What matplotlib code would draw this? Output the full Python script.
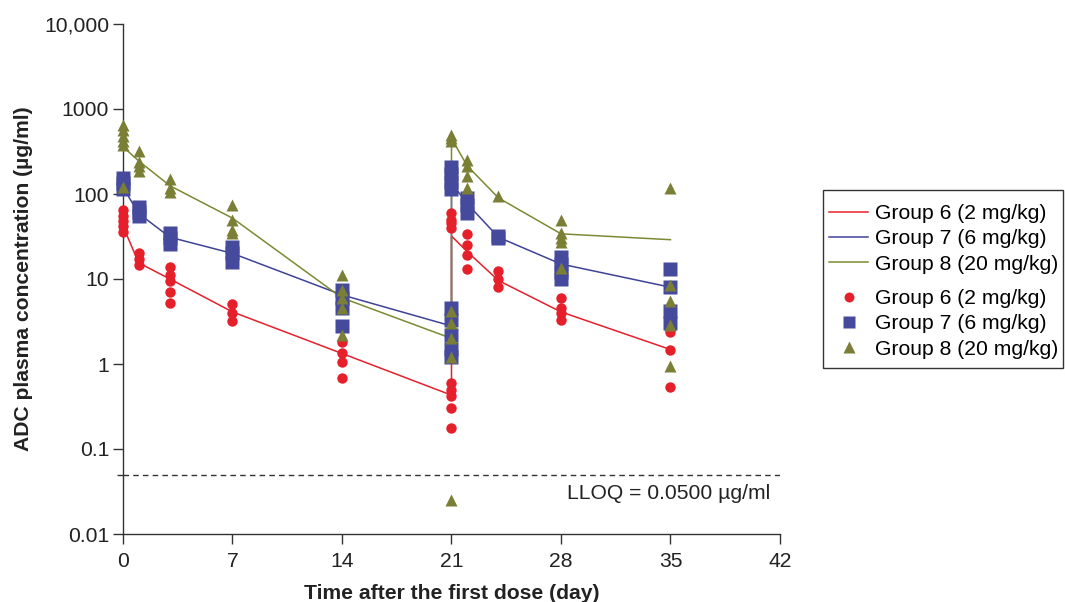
import matplotlib
matplotlib.use('Agg')
import matplotlib.pyplot as plt
from matplotlib.lines import Line2D
from matplotlib.patches import Rectangle
from matplotlib.ticker import FixedLocator, NullFormatter

plt.rcParams['font.family'] = ['Liberation Sans', 'DejaVu Sans']

groups = ['Group 6 (2 mg/kg)', 'Group 7 (6 mg/kg)', 'Group 8 (20 mg/kg)']
colors = ['#E5202B', '#454A9D', '#7A7F35']
line_colors = ['#E5202B', '#3E4398', '#7C8A32']
markers = ['o', 's', '^']
msizes = [7.5, 9.5, 9]

# model / mean curves
line_days = [0, 1, 3, 7, 14, 21, 21, 22, 24, 28, 35]
line_g6 = [42, 15.5, 10, 4.1, 1.33, 0.43, 32, 21, 9.6, 4.1, 1.48]
line_g7 = [120, 59, 31, 20, 6.5, 2.8, 135, 77, 31, 15, 8]
line_g8 = [360, 245, 125, 52, 6.0, 2.0, 450, 215, 90, 34, 29]

# individual observations
g6_days = [0]*5 + [1]*3 + [3]*5 + [7]*3 + [14]*4 + [21]*5 + [21]*4 + [22]*4 + [24]*3 + [28]*4 + [35]*3
g6_vals = [65, 55, 48, 42, 36,
           20, 17, 14.5,
           14, 11, 9.5, 7, 5.2,
           5.1, 4.0, 3.2,
           1.8, 1.35, 1.05, 0.68,
           0.6, 0.5, 0.42, 0.3, 0.175,
           60, 50, 45, 40,
           34, 25, 19, 13,
           12.5, 10, 8,
           6, 4.5, 4, 3.3,
           2.4, 1.45, 0.53]

g7_days = [0]*3 + [1]*3 + [3]*3 + [7]*3 + [14]*4 + [21]*5 + [21]*4 + [22]*3 + [24]*2 + [28]*4 + [35]*4
g7_vals = [155, 135, 115,
           70, 62, 55,
           35, 30, 26,
           24, 20, 16,
           7.5, 6, 4.5, 2.8,
           4.5, 3.3, 2.2, 1.5, 1.2,
           210, 170, 140, 115,
           90, 75, 60,
           32, 30,
           18, 15, 12, 10,
           13, 8, 4.2, 3]

g8_days = [0]*6 + [1]*4 + [3]*3 + [7]*4 + [14]*5 + [21]*5 + [21]*3 + [22]*4 + [24]*1 + [28]*5 + [35]*5
g8_vals = [650, 560, 480, 420, 380, 120,
           320, 240, 215, 185,
           150, 118, 105,
           75, 50, 38, 35,
           11, 7.5, 6, 4.5, 2.2,
           4.2, 3.0, 2.0, 1.2, 0.025,
           500, 450, 420,
           250, 215, 165, 118,
           95,
           50, 35, 30, 27, 13.5,
           118, 8.5, 5.5, 2.9, 0.95]

lloq = 0.05
x_ticks = [0, 7, 14, 21, 28, 35, 42]
y_ticks = [0.01, 0.1, 1, 10, 100, 1000, 10000]
y_labels = ['0.01', '0.1', '1', '10', '100', '1000', '10,000']

FS = 15.2
fig = plt.figure(figsize=(10.65, 6.02), dpi=100)
ax = fig.add_axes([123/1065, 1-534/602, (780-123)/1065, (534-24)/602])

lines = [line_g6, line_g7, line_g8]
sc_days = [g6_days, g7_days, g8_days]
sc_vals = [g6_vals, g7_vals, g8_vals]

for i in range(3):
    ax.plot(line_days, lines[i], color=line_colors[i], lw=1.1, zorder=2)
for i in range(3):
    ax.plot(sc_days[i], sc_vals[i], linestyle='none', marker=markers[i],
            ms=msizes[i], color=colors[i], mec='none', zorder=3+i, clip_on=False)

ax.plot([0, 42], [lloq, lloq], color='#333333', lw=1, dashes=(4, 3), zorder=1)
ax.text(41.4, 0.030, 'LLOQ = 0.0500 µg/ml', ha='right', va='center', fontsize=FS, color='#222222')

ax.set_yscale('log')
ax.set_xlim(0, 42)
ax.set_ylim(0.01, 10000)
ax.set_xticks(x_ticks)
ax.set_xticklabels([str(t) for t in x_ticks])
ax.yaxis.set_major_locator(FixedLocator(y_ticks))
ax.set_yticklabels(y_labels)
ax.yaxis.set_minor_locator(FixedLocator([lloq]))
ax.yaxis.set_minor_formatter(NullFormatter())
for s in ['top', 'right']:
    ax.spines[s].set_visible(False)
for s in ['left', 'bottom']:
    ax.spines[s].set_color('#333333')
    ax.spines[s].set_linewidth(1)
ax.tick_params(axis='both', which='major', length=7, width=1, color='#333333', labelsize=FS, labelcolor='#222222')
ax.tick_params(axis='x', which='major', pad=6)
ax.tick_params(axis='y', which='major', pad=3)
ax.tick_params(axis='y', which='minor', length=4, width=1, color='#333333')
ax.set_xlabel('Time after the first dose (day)', fontsize=FS, fontweight='bold', labelpad=9, color='#222222')
ax.set_ylabel('ADC plasma concentration (µg/ml)', fontsize=FS, fontweight='bold', labelpad=8, color='#222222')

# legend
fig.patches.append(Rectangle((823/1065, 1-368/602), (1063-823)/1065, (368-190)/602,
                             transform=fig.transFigure, fill=False, ec='#333333', lw=1))
h_lines = [Line2D([], [], color=line_colors[i], lw=1.1) for i in range(3)]
h_marks = [Line2D([], [], linestyle='none', marker=markers[i], ms=msizes[i]*0.95,
                  color=colors[i], mec='none') for i in range(3)]
kw = dict(loc='center left', frameon=False, fontsize=FS, handlelength=1.85, handletextpad=0.35,
          labelspacing=0.29, borderpad=0, borderaxespad=0)
fig.legend(h_lines, groups, bbox_to_anchor=(829/1065, 1-239/602), **kw)
fig.legend(h_marks, groups, bbox_to_anchor=(829/1065, 1-324/602), **kw)

fig.savefig('out.png', dpi=100)
